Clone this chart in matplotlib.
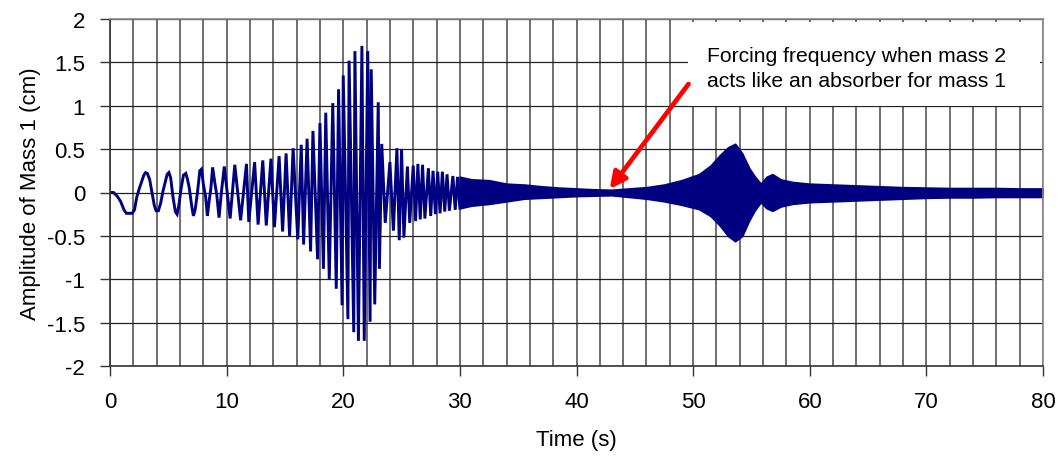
import matplotlib
matplotlib.use('Agg')
import matplotlib.pyplot as plt
from matplotlib.patches import Rectangle

plt.rcParams['font.family'] = ['Liberation Sans', 'DejaVu Sans']
plt.rcParams['axes.unicode_minus'] = False

# ---- data ----
# slow early oscillation (0-10 s)
early_t = [0, 0.3, 0.6, 0.9, 1.2, 1.4, 1.9, 2.1, 2.3, 2.5, 2.7, 2.9, 3.05, 3.2, 3.4, 3.6,
           3.8, 3.95, 4.15, 4.35, 4.55, 4.7, 4.9, 5.05, 5.2, 5.4, 5.6, 5.75, 5.9, 6.1, 6.3,
           6.5, 6.65, 6.8, 7.0, 7.15, 7.3, 7.5, 7.7, 7.85, 8.0, 8.2, 8.35, 8.5, 8.65, 8.8,
           9.0, 9.15, 9.35, 9.55, 9.8]
early_v = [0, 0, -0.04, -0.1, -0.2, -0.24, -0.24, -0.2, -0.05, 0.04, 0.12, 0.2, 0.23, 0.22,
           0.15, 0.0, -0.15, -0.21, -0.21, -0.12, 0.02, 0.1, 0.21, 0.23, 0.17, -0.05, -0.22,
           -0.25, -0.15, 0.05, 0.2, 0.22, 0.15, 0.05, -0.15, -0.27, -0.2, 0.0, 0.25, 0.27,
           0.1, -0.05, -0.27, -0.1, 0.05, 0.29, 0.1, -0.02, -0.29, 0.0, 0.3]

# faster oscillation (10-30 s): alternating troughs / peaks
mid_t = [10.3, 10.7, 11.2, 11.7, 11.9, 12.4, 12.7, 13.1, 13.4, 13.8, 14.1, 14.5, 14.8,
         15.1, 15.4, 15.7, 16.1, 16.4, 16.6, 16.9, 17.2, 17.4, 17.8, 18.0, 18.3, 18.5,
         18.8, 19.1, 19.4, 19.6, 19.9, 20.0, 20.4, 20.5, 20.9, 21.0, 21.3, 21.6, 21.8,
         22.1, 22.3, 22.4, 22.7, 23.0, 23.1, 23.3, 23.6, 24.0, 24.3, 24.6, 24.8, 25.0,
         25.2, 25.5, 25.7, 26.0, 26.2, 26.4, 26.6, 26.8, 27.0, 27.3, 27.5, 27.7, 27.9,
         28.1, 28.3, 28.5, 28.7, 28.9, 29.1, 29.4, 29.6, 29.8, 30.0]
mid_v = [-0.30, 0.32, -0.32, 0.33, -0.34, 0.35, -0.37, 0.37, -0.38, 0.39, -0.40, 0.42,
         -0.45, 0.45, -0.5, 0.51, -0.54, 0.55, -0.6, 0.62, -0.68, 0.71, -0.77, 0.80,
         -0.88, 0.92, -1.0, 1.03, -1.11, 1.19, -1.30, 1.35, -1.46, 1.52, -1.61, 1.63,
         -1.71, 1.69, -1.71, 1.63, -1.49, 1.42, -1.29, 1.04, -0.88, 0.56, -0.35, 0.35,
         -0.44, 0.51, -0.55, 0.5, -0.52, 0.3, -0.35, 0.31, -0.33, 0.33, -0.31, 0.32,
         -0.3, 0.28, -0.27, 0.25, -0.25, 0.24, -0.24, 0.24, -0.22, 0.21, -0.21, 0.19,
         -0.2, 0.18, -0.18]

# dense band (30-80 s): upper / lower envelope
band_t = [30, 31, 32.5, 34, 35.5, 37, 38.5, 40, 41.5, 43, 44.5, 46, 47.5, 49, 50.5, 51.5,
          52.3, 53.0, 53.6, 54.2, 54.8, 55.3, 55.8, 56.3, 56.8, 57.5, 58.5, 60, 62, 64,
          66, 68, 70, 72, 74, 76, 78, 80]
band_hi = [0.18, 0.15, 0.14, 0.10, 0.09, 0.07, 0.055, 0.045, 0.035, 0.03, 0.045, 0.06,
           0.09, 0.14, 0.21, 0.31, 0.43, 0.52, 0.56, 0.45, 0.28, 0.18, 0.10, 0.18, 0.21,
           0.15, 0.12, 0.10, 0.09, 0.08, 0.07, 0.06, 0.055, 0.05, 0.05, 0.05, 0.045, 0.045]
band_lo = [-0.18, -0.15, -0.13, -0.10, -0.07, -0.06, -0.05, -0.04, -0.035, -0.03, -0.05,
           -0.07, -0.10, -0.14, -0.19, -0.27, -0.38, -0.50, -0.56, -0.50, -0.32, -0.20,
           -0.11, -0.18, -0.21, -0.16, -0.13, -0.11, -0.10, -0.09, -0.08, -0.07, -0.06,
           -0.055, -0.055, -0.05, -0.05, -0.05]

x_ticks = [0, 10, 20, 30, 40, 50, 60, 70, 80]
x_labels = ['0', '10', '20', '30', '40', '50', '60', '70', '80']
y_ticks = [-2, -1.5, -1, -0.5, 0, 0.5, 1, 1.5, 2]
y_labels = ['-2', '-1.5', '-1', '-0.5', '0', '0.5', '1', '1.5', '2']

note_lines = ['Forcing frequency when mass 2', 'acts like an absorber for mass 1']

NAVY = '#000080'

fig = plt.figure(figsize=(10.59, 4.6), dpi=100)
ax = fig.add_axes([110 / 1059, 1 - 367 / 460, 933 / 1059, 347 / 460])
ax.set_xlim(0, 80)
ax.set_ylim(-2, 2)

ax.plot(early_t + mid_t, early_v + mid_v, color=NAVY, lw=2.1, zorder=2,
        solid_joinstyle='miter')
ax.fill_between(band_t, band_lo, band_hi, color=NAVY, edgecolor=NAVY, lw=1.4, zorder=2)

ax.set_xticks(x_ticks)
ax.set_xticklabels(x_labels)
ax.set_xticks(list(range(0, 81, 2)), minor=True)
ax.set_yticks(y_ticks)
ax.set_yticklabels(y_labels)

ax.tick_params(axis='x', which='major', length=7, width=1, pad=11, labelsize=16, color='#333333')
ax.tick_params(axis='x', which='minor', length=0)
ax.tick_params(axis='y', which='major', length=7, width=1, pad=11, labelsize=16, color='#333333')

ax.set_axisbelow(True)
ax.grid(True, axis='x', which='both', color='#484848', lw=1.1)
ax.grid(True, axis='y', which='major', color='#202020', lw=0.9)

for s in ['top', 'right']:
    ax.spines[s].set_color('#8a8a8a')
    ax.spines[s].set_linewidth(1.2)
for s in ['left', 'bottom']:
    ax.spines[s].set_color('#333333')
    ax.spines[s].set_linewidth(1.2)

ax.set_xlabel('Time (s)', fontsize=16, labelpad=12)
ax.set_ylabel('Amplitude of Mass 1 (cm)', fontsize=16, labelpad=4)

# white note box covering the grid
ax.add_patch(Rectangle((49.6, 1.0), 30.1, 0.97, facecolor='white', edgecolor='none', zorder=3))
ax.text(51.2, 1.58, note_lines[0], fontsize=15.2, va='center', ha='left', zorder=5)
ax.text(51.2, 1.295, note_lines[1], fontsize=15.2, va='center', ha='left', zorder=5)

ax.annotate('', xy=(42.85, 0.04), xytext=(49.6, 1.25),
            arrowprops=dict(arrowstyle='-|>', color='#ff0000', lw=3.4, mutation_scale=24,
                            shrinkA=0, shrinkB=0), zorder=4)

fig.savefig('out.png', dpi=100)
